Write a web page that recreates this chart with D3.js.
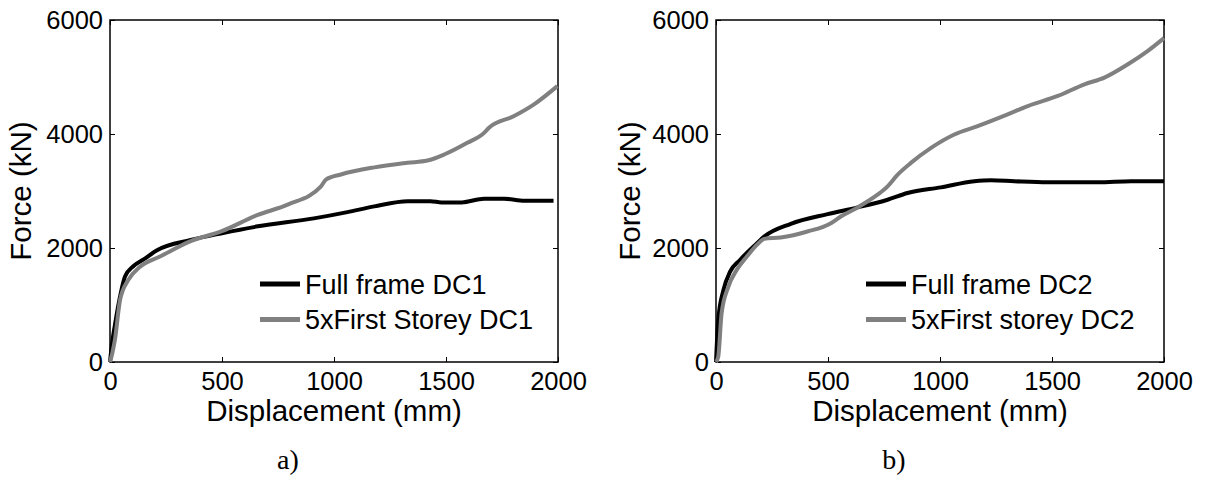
<html>
<head>
    <script src="https://d3js.org/d3.v7.min.js"></script>
    <style>
        body { margin: 0; background: #fff; }
        svg { font-family: "Liberation Sans", Arial, sans-serif; }
        .tick text { font-size: 25.5px; fill: #000; }
        .tick line { stroke: #000; stroke-width: 1; }
        .axis path { stroke: none; }
        .axis-label { font-size: 29.5px; fill: #000; }
        .legend text { font-size: 27px; fill: #000; }
        .panel-label { font-family: "Liberation Serif", "Times New Roman", serif; font-size: 28px; }
    </style>
</head>
<body>
    <svg id="chart" width="1205" height="484"></svg>

    <script>
        // tick values
        const xTicks = [0, 500, 1000, 1500, 2000];
        const yTicks = [0, 2000, 4000, 6000];

        // [displacement mm, force kN]
        const fullFrameDC1 = [[0,0],[10,350],[22,650],[45,1150],[67,1500],[104,1680],[150,1800],[210,1960],[360,2140],[500,2260],[660,2380],[910,2520],[1060,2630],[1180,2730],[1330,2820],[1430,2820],[1480,2800],[1570,2800],[1670,2865],[1760,2865],[1850,2830],[1980,2830]];
        const firstStoreyDC1 = [[0,0],[10,150],[22,390],[45,1090],[82,1440],[134,1670],[223,1850],[363,2125],[496,2290],[660,2580],[793,2760],[942,3080],[964,3200],[1031,3290],[1180,3415],[1328,3495],[1417,3535],[1492,3640],[1595,3845],[1670,4020],[1692,4110],[1804,4315],[1893,4520],[1997,4840]];
        const fullFrameDC2 = [[0,0],[10,740],[33,1260],[63,1585],[107,1790],[182,2080],[215,2200],[334,2425],[498,2595],[632,2712],[766,2847],[855,2964],[1004,3064],[1153,3170],[1228,3188],[1332,3170],[1481,3152],[1705,3152],[1854,3170],[2000,3170]];
        const firstStoreyDC2 = [[0,0],[10,93],[25,854],[55,1320],[92,1614],[137,1847],[197,2110],[215,2160],[289,2184],[408,2289],[513,2436],[557,2553],[632,2712],[721,2935],[766,3082],[811,3287],[870,3493],[960,3757],[1064,3992],[1168,4138],[1302,4344],[1392,4491],[1526,4667],[1645,4872],[1734,4990],[1839,5224],[1928,5459],[2000,5682]];

        const legendDC1 = ["Full frame DC1", "5xFirst Storey DC1"];
        const legendDC2 = ["Full frame DC2", "5xFirst storey DC2"];

        const svg = d3.select("#chart");
        const plotW = 448, plotH = 342;
        const fmt = d3.format("d");

        function drawPanel(left, series, names, panelLabel, ylabX, legendX) {
            const g = svg.append("g").attr("transform", `translate(${left},20)`);

            const x = d3.scaleLinear().domain([0, 2000]).range([0, plotW]);
            const y = d3.scaleLinear().domain([0, 6000]).range([plotH, 0]);

            g.append("g").attr("class", "axis")
                .attr("transform", `translate(0,${plotH})`)
                .call(d3.axisBottom(x).tickValues(xTicks).tickFormat(fmt).tickSize(-5).tickPadding(10));
            g.append("g").attr("class", "axis")
                .call(d3.axisTop(x).tickValues(xTicks).tickSize(-5).tickFormat(""));
            g.append("g").attr("class", "axis")
                .call(d3.axisLeft(y).tickValues(yTicks).tickFormat(fmt).tickSize(-5).tickPadding(7));
            g.append("g").attr("class", "axis")
                .attr("transform", `translate(${plotW},0)`)
                .call(d3.axisRight(y).tickValues(yTicks).tickSize(-5).tickFormat(""));

            g.append("rect")
                .attr("width", plotW)
                .attr("height", plotH)
                .attr("fill", "none")
                .attr("stroke", "#000")
                .attr("stroke-width", 1.5);

            const line = d3.line()
                .x(d => x(d[0]))
                .y(d => y(d[1]))
                .curve(d3.curveMonotoneX);

            const colors = ["#000000", "#808080"];

            series.forEach((s, i) => {
                g.append("path")
                    .datum(s)
                    .attr("d", line)
                    .attr("fill", "none")
                    .attr("stroke", colors[i])
                    .attr("stroke-width", 4)
                    .attr("stroke-linejoin", "round");
            });

            // legend
            const legend = g.append("g").attr("class", "legend")
                .attr("transform", `translate(${legendX},264)`);
            names.forEach((n, i) => {
                legend.append("line")
                    .attr("x1", 0).attr("x2", 40)
                    .attr("y1", i * 35.5).attr("y2", i * 35.5)
                    .attr("stroke", colors[i])
                    .attr("stroke-width", 5);
                legend.append("text")
                    .attr("x", 45)
                    .attr("y", i * 35.5 + 9.5)
                    .text(n);
            });

            g.append("text")
                .attr("class", "axis-label")
                .attr("text-anchor", "middle")
                .attr("x", plotW / 2)
                .attr("y", 401)
                .text("Displacement (mm)");

            g.append("text")
                .attr("class", "axis-label")
                .attr("text-anchor", "middle")
                .attr("transform", `translate(${ylabX},${plotH / 2})rotate(-90)`)
                .text("Force (kN)");

            g.append("text")
                .attr("class", "panel-label")
                .attr("text-anchor", "middle")
                .attr("x", plotW / 2 - 46)
                .attr("y", 449)
                .text(panelLabel);
        }

        drawPanel(110, [fullFrameDC1, firstStoreyDC1], legendDC1, "a)", -79, 150);
        drawPanel(716, [fullFrameDC2, firstStoreyDC2], legendDC2, "b)", -76, 150);
    </script>
</body>
</html>
